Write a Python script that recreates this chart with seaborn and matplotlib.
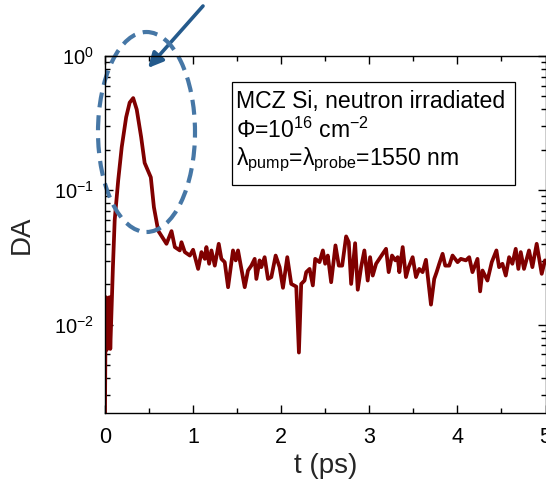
import matplotlib
matplotlib.use("Agg")
import matplotlib.pyplot as plt
import seaborn as sns
import pandas as pd
from matplotlib.patches import Ellipse, Rectangle
from matplotlib.ticker import LogLocator, LogFormatterMathtext, NullFormatter, FixedLocator

# ---- data ----
t_ps = [0.0, 0.005, 0.012, 0.02, 0.03, 0.04, 0.05, 0.06, 0.09, 0.11, 0.15, 0.19,
        0.24, 0.28, 0.32, 0.36, 0.41, 0.45, 0.52, 0.555, 0.604,
        0.698, 0.755, 0.793, 0.849, 0.868, 0.906, 0.963, 1.000, 1.057, 1.095,
        1.133, 1.151, 1.182, 1.208, 1.246, 1.291, 1.321, 1.359, 1.397, 1.453,
        1.484, 1.510, 1.586, 1.623, 1.661, 1.699, 1.718, 1.755, 1.774, 1.812,
        1.850, 1.888, 1.937, 1.982, 2.020, 2.069, 2.114, 2.171, 2.201, 2.227,
        2.265, 2.284, 2.322, 2.359, 2.386, 2.435, 2.473, 2.499, 2.529, 2.567,
        2.616, 2.654, 2.692, 2.737, 2.767, 2.794, 2.839, 2.869, 2.907, 2.944,
        2.982, 3.009, 3.039, 3.077, 3.114, 3.190, 3.220, 3.258, 3.296, 3.322,
        3.341, 3.379, 3.416, 3.447, 3.492, 3.530, 3.567, 3.605, 3.643, 3.700,
        3.737, 3.764, 3.794, 3.832, 3.862, 3.907, 3.945, 4.002, 4.039, 4.096,
        4.134, 4.171, 4.228, 4.258, 4.285, 4.341, 4.390, 4.443, 4.473, 4.511,
        4.549, 4.587, 4.624, 4.662, 4.692, 4.719, 4.756, 4.813, 4.851, 4.900,
        4.957, 4.994]
da = [0.0022, 0.008, 0.016, 0.0065, 0.015, 0.0068, 0.016, 0.0066, 0.027, 0.06, 0.119, 0.21,
      0.35, 0.45, 0.486, 0.40, 0.25, 0.16, 0.125, 0.075, 0.050,
      0.040, 0.0497, 0.0378, 0.0357, 0.0411, 0.0347, 0.0327, 0.0361, 0.0260, 0.0347,
      0.0309, 0.0378, 0.0284, 0.0357, 0.0275, 0.0400, 0.0309, 0.0292, 0.0190, 0.0357,
      0.0301, 0.0357, 0.0190, 0.0253, 0.0275, 0.0309, 0.0219, 0.0301, 0.0268, 0.0318,
      0.0219, 0.0226, 0.0327, 0.0268, 0.0188, 0.0318, 0.0201, 0.0192, 0.0062, 0.0201,
      0.0213, 0.0246, 0.0260, 0.0196, 0.0309, 0.0292, 0.0357, 0.0284, 0.0327, 0.0207,
      0.0389, 0.0275, 0.0275, 0.0454, 0.0411, 0.0201, 0.0404, 0.0182, 0.0268, 0.0357,
      0.0213, 0.0318, 0.0232, 0.0284, 0.0309, 0.0367, 0.0246, 0.0327, 0.0301, 0.0318,
      0.0246, 0.0378, 0.0226, 0.0268, 0.0318, 0.0226, 0.0260, 0.0246, 0.0304, 0.0141,
      0.0219, 0.0246, 0.0284, 0.0337, 0.0275, 0.0275, 0.0327, 0.0292, 0.0309, 0.0301,
      0.0318, 0.0246, 0.0309, 0.0177, 0.0253, 0.0213, 0.0292, 0.0357, 0.0268, 0.0284,
      0.0232, 0.0318, 0.0284, 0.0367, 0.0260, 0.0347, 0.0260, 0.0357, 0.0268, 0.0400,
      0.0239, 0.0301]
x_ticks = [0, 1, 2, 3, 4, 5]
x_minor_ticks = [0.5, 1.5, 2.5, 3.5, 4.5]
x_label = "t (ps)"
y_label = "DA"
info_lines = ["MCZ Si, neutron irradiated",
              "Φ=10$^{16}$ cm$^{-2}$",
              "λ$_{\\mathrm{pump}}$=λ$_{\\mathrm{probe}}$=1550 nm"]

df = pd.DataFrame({"t": t_ps, "DA": da})

sns.set_theme(style="ticks")
plt.rcParams.update({
    "font.family": ["Liberation Sans", "DejaVu Sans"],
    "mathtext.fontset": "custom",
    "mathtext.rm": "Liberation Sans",
    "mathtext.it": "Liberation Sans:italic",
    "mathtext.bf": "Liberation Sans:bold",
    "xtick.direction": "in", "ytick.direction": "in",
    "xtick.top": True, "ytick.right": True,
    "xtick.bottom": True, "ytick.left": True,
    "xtick.color": "black", "ytick.color": "black",
    "xtick.major.size": 6, "ytick.major.size": 6,
    "xtick.minor.size": 3.5, "ytick.minor.size": 3.5,
    "xtick.major.width": 1.0, "ytick.major.width": 1.0,
    "xtick.minor.width": 1.0, "ytick.minor.width": 1.0,
    "xtick.minor.visible": True, "ytick.minor.visible": True,
    "axes.edgecolor": "black",
})

W, H = 546, 487
fig = plt.figure(figsize=(W / 100, H / 100), dpi=100)
L, R, T, B = 105, 545.5, 56, 413
ax = fig.add_axes([L / W, (H - B) / H, (R - L) / W, (B - T) / H])

sns.lineplot(data=df, x="t", y="DA", ax=ax, estimator=None, sort=False,
             color="#800000", linewidth=2.7)

ax.set_yscale("log")
ax.set_xlim(0, 5)
ax.set_ylim(0.0022, 1.0)
ax.xaxis.set_major_locator(FixedLocator(x_ticks))
ax.xaxis.set_minor_locator(FixedLocator(x_minor_ticks))
ax.yaxis.set_major_locator(LogLocator(base=10))
ax.yaxis.set_major_formatter(LogFormatterMathtext())
ax.yaxis.set_minor_locator(LogLocator(base=10, subs=[2, 3, 4, 5, 6, 7, 8, 9]))
ax.yaxis.set_minor_formatter(NullFormatter())

ax.tick_params(axis="both", which="both", direction="in", top=True, right=True,
               bottom=True, left=True, color="black", width=1.0)
ax.tick_params(axis="both", which="major", length=6)
ax.tick_params(axis="both", which="minor", length=3.5)
ax.tick_params(axis="x", which="major", labelsize=15.5, pad=10)
ax.tick_params(axis="y", which="major", labelsize=14.5, pad=8)
for s in ax.spines.values():
    s.set_color("black")
    s.set_linewidth(1.0)
    s.set_zorder(10)

ax.set_xlabel(x_label, fontsize=20, labelpad=4)
ax.set_ylabel(y_label, fontsize=20, labelpad=14)


def axf(px, py):
    return ((px - L) / (R - L), (B - py) / (B - T))


# info box
bx0, by0 = axf(232, 185)
bx1, by1 = axf(515, 82)
ax.add_patch(Rectangle((bx0, by0), bx1 - bx0, by1 - by0, transform=ax.transAxes,
                       fill=False, edgecolor="black", linewidth=0.9, zorder=5))
for line, base in zip(info_lines, [108.3, 138.3, 165]):
    tx, ty = axf(236.5, base)
    ax.text(tx, ty, line, transform=ax.transAxes, fontsize=16.6, va="baseline",
            ha="left", color="black", zorder=6)

# dashed ellipse
cx, cy = axf(146.5, 132)
ax.add_patch(Ellipse((cx, cy), 97 / (R - L), 200 / (B - T), transform=ax.transAxes,
                     fill=False, edgecolor="#4677a6", linewidth=3.0,
                     linestyle=(0, (3.6, 1.9)), clip_on=False, zorder=4))

# arrow
ax.annotate("", xy=(148, H - 68), xytext=(203, H - 6), xycoords="figure pixels",
            textcoords="figure pixels", annotation_clip=False,
            arrowprops=dict(arrowstyle="-|>", color="#245a8c", lw=2.6,
                            mutation_scale=22, shrinkA=0, shrinkB=0))

fig.savefig("out.png", dpi=100)
